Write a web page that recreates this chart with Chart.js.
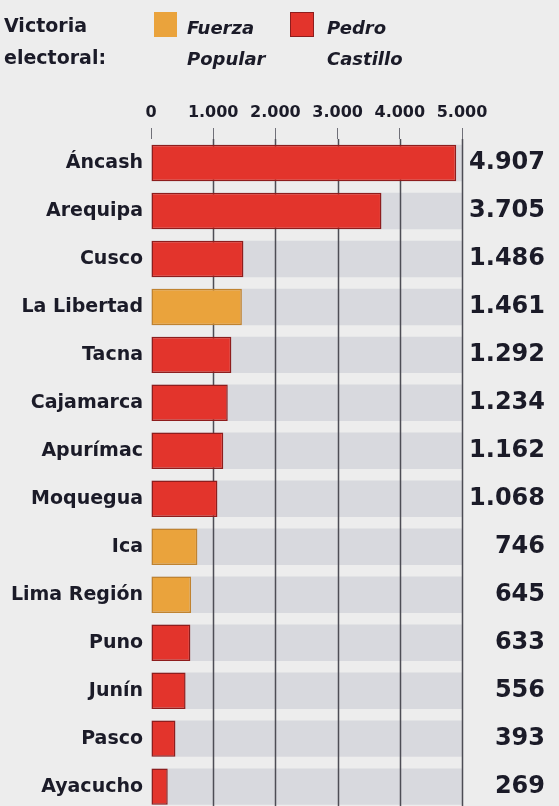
<!DOCTYPE html>
<html>
<head>
<meta charset="utf-8">
<script src="https://cdn.jsdelivr.net/npm/chart.js@4"></script>
<style>
  html, body { margin: 0; padding: 0; background: #ededed; overflow: hidden; width: 559px; height: 806px; }
  body { position: relative; font-family: 'DejaVu Sans', sans-serif; color: #1b1b28; }
  #wrap { position: absolute; left: 0; top: 0; width: 559px; height: 830px; }
  .leg { position: absolute; font-weight: bold; font-size: 19px; line-height: 32px; white-space: nowrap; }
  .sw { position: absolute; width: 23px; height: 25px; }
  .it { font-style: italic; font-size: 18px; line-height: 31px; }
</style>
</head>
<body>
<div id="wrap"><canvas id="grafico"></canvas></div>

<div class="leg" style="left:4px; top:9px;">Victoria<br>electoral:</div>
<div class="sw" style="left:154px; top:12px; background:#eaa33c;"></div>
<div class="leg it" style="left:187px; top:12px;">Fuerza<br>Popular</div>
<div class="sw" style="left:290px; top:12px; background:#e3342c; border:1px solid #8e1d1d; width:22px; height:23px;"></div>
<div class="leg it" style="left:327px; top:12px;">Pedro<br>Castillo</div>

<script>
// Regiones y votos (diferencia)
var regiones = ['Áncash', 'Arequipa', 'Cusco', 'La Libertad', 'Tacna', 'Cajamarca', 'Apurímac',
  'Moquegua', 'Ica', 'Lima Región', 'Puno', 'Junín', 'Pasco', 'Ayacucho'];
var votos = [4907, 3705, 1486, 1461, 1292, 1234, 1162, 1068, 746, 645, 633, 556, 393, 269];
// P = Pedro Castillo, F = Fuerza Popular
var ganador = ['P', 'P', 'P', 'F', 'P', 'P', 'P', 'P', 'F', 'F', 'P', 'P', 'P', 'P'];
var ticksX = ['0', '1.000', '2.000', '3.000', '4.000', '5.000'];
var maxEje = 5000;

var fuente = "'DejaVu Sans', sans-serif";
var corTexto = '#1b1b28';

// formato con punto de miles
function formatar(n) {
  return String(n).replace(/\B(?=(\d{3})+(?!\d))/g, '.');
}

var cores = { P: '#e3342c', F: '#eaa33c' };
var bordas = { P: '#8e1d1d', F: '#c08330' };

// linhas verticais desenhadas sobre as faixas cinzas, por baixo das barras
var gradePlugin = {
  id: 'grade',
  afterDatasetDraw: function(chart, args) {
    if (args.index !== 1) return;
    var ctx = chart.ctx;
    var area = chart.chartArea;
    var x = chart.scales.x;
    ctx.save();
    ctx.strokeStyle = '#4d4d55';
    ctx.lineWidth = 1.5;
    for (var v = 1000; v <= maxEje; v += 1000) {
      var px = Math.round(x.getPixelForValue(v)) + 0.5;
      ctx.beginPath();
      ctx.moveTo(px, area.top);
      ctx.lineTo(px, area.bottom);
      ctx.stroke();
    }
    ctx.restore();
  }
};

new Chart(document.getElementById('grafico'), {
  type: 'bar',
  data: {
    labels: regiones,
    datasets: [{
      data: votos,
      backgroundColor: ganador.map(function(g) { return cores[g]; }),
      borderColor: ganador.map(function(g) { return bordas[g]; }),
      borderWidth: 1.5,
      borderSkipped: false,
      grouped: false,
      barPercentage: 0.76,
      categoryPercentage: 1
    }, {
      data: regiones.map(function() { return maxEje; }),
      backgroundColor: '#d8d9de',
      borderWidth: 0,
      grouped: false,
      barPercentage: 0.76,
      categoryPercentage: 1
    }]
  },
  options: {
    indexAxis: 'y',
    responsive: true,
    maintainAspectRatio: false,
    animation: false,
    layout: { padding: { left: 0, right: 14, top: 0, bottom: 0 } },
    plugins: { legend: { display: false }, tooltip: { enabled: false } },
    scales: {
      x: {
        position: 'top',
        min: 0,
        max: maxEje,
        afterFit: function(s) { s.height = 139; },
        border: { display: false },
        grid: { drawOnChartArea: false, drawTicks: true, tickLength: 11, color: '#707078', lineWidth: 1 },
        ticks: {
          stepSize: 1000,
          padding: 6,
          color: corTexto,
          font: { family: fuente, size: 16, weight: 'bold' },
          callback: function(v, i) { return ticksX[i]; }
        }
      },
      y: {
        position: 'left',
        offset: true,
        afterFit: function(s) { s.width = 151; },
        border: { display: false },
        grid: { display: false, drawTicks: false },
        ticks: { padding: 8, color: corTexto, font: { family: fuente, size: 19, weight: 'bold' } }
      },
      y2: {
        type: 'category',
        position: 'right',
        offset: true,
        labels: votos.map(formatar),
        afterFit: function(s) { s.width = 83; },
        border: { display: false },
        grid: { display: false, drawTicks: false },
        ticks: { crossAlign: 'far', color: corTexto, font: { family: fuente, size: 24, weight: 'bold' } }
      }
    }
  },
  plugins: [gradePlugin]
});
</script>
</body>
</html>
